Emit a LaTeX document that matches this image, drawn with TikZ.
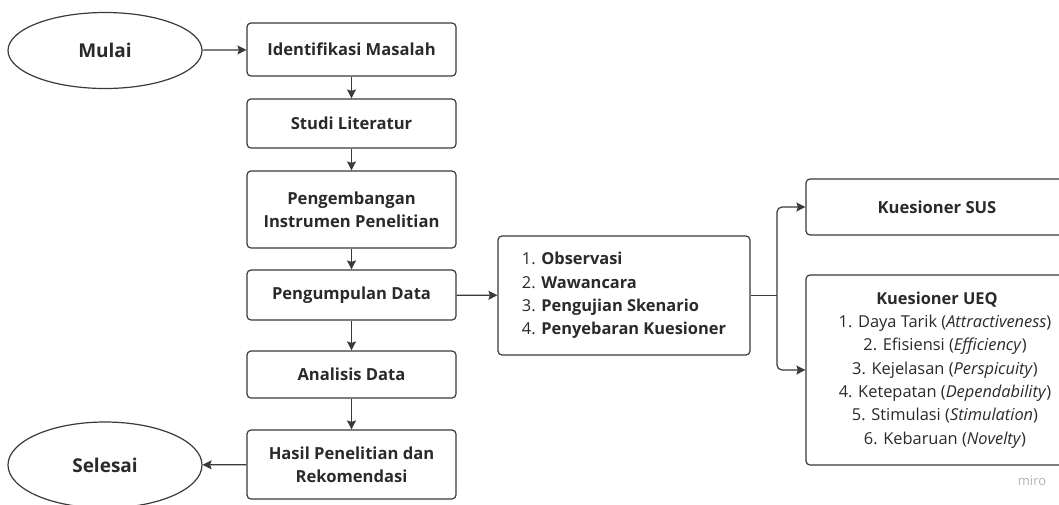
\documentclass[tikz,border=0pt]{standalone}
\usepackage{fontspec}
\setmainfont{Open Sans}
\usetikzlibrary{arrows.meta,shapes.geometric}
\definecolor{ln}{HTML}{3A3A3A}
\definecolor{tx}{HTML}{2A2A2A}
\definecolor{wm}{HTML}{B4B4B4}
\begin{document}
\begin{tikzpicture}[x=1pt,y=-1pt,
  every node/.style={text=tx},
  box/.style={draw=ln,line width=1.2pt,rounded corners=4pt,align=center,inner sep=0pt,
    font=\fontsize{16.6}{23.3}\selectfont\bfseries},
  oval/.style={draw=ln,line width=1.2pt,ellipse,inner sep=0pt,
    font=\fontsize{19}{23}\selectfont\bfseries},
  arr/.style={draw=ln,line width=1.2pt,-{Stealth[length=9pt,width=9pt,inset=1.5pt]}},
  con/.style={draw=ln,line width=1.2pt}]
\useasboundingbox (0,0) rectangle (1059,504);
\clip (0,0) rectangle (1059,504);
\fill[white] (0,0) rectangle (1059,504);

\node[oval,minimum width=194pt,minimum height=76pt] (mulai) at (105,50.5) {Mulai};
\node[oval,minimum width=194pt,minimum height=86pt] (selesai) at (105,465) {Selesai};

\node[box,minimum width=209pt,minimum height=53pt] (idm) at (351.5,49.5) {Identifikasi Masalah};
\node[box,minimum width=209pt,minimum height=49pt] (studi) at (351.5,123.5) {Studi Literatur};
\node[box,minimum width=209pt,minimum height=77pt] (peng) at (351.5,209.5) {Pengembangan\\Instrumen Penelitian};
\node[box,minimum width=209pt,minimum height=50pt] (pengum) at (351.5,295) {Pengumpulan Data};
\node[box,minimum width=209pt,minimum height=47pt] (anal) at (351.5,374.5) {Analisis Data};
\node[box,minimum width=209pt,minimum height=69pt] (hasil) at (351.5,464.5) {Hasil Penelitian dan\\Rekomendasi};

\node[box,minimum width=252pt,minimum height=119pt,align=left,font=\fontsize{16.4}{23.3}\selectfont] (list) at (624,295.5)
  {1. \textbf{Observasi}\\2. \textbf{Wawancara}\\3. \textbf{Pengujian Skenario}\\4. \textbf{Penyebaran Kuesioner}};

\node[box,minimum width=262pt,minimum height=56pt] (sus) at (937,207) {Kuesioner SUS};
\node[box,minimum width=262pt,minimum height=190pt,font=\fontsize{16.4}{23.3}\selectfont] (ueq) at (937,370)
  {\textbf{Kuesioner UEQ}\\
   \hspace*{16pt}1. Daya Tarik (\textit{Attractiveness})\\
   \hspace*{16pt}2. Efisiensi (\textit{Efficiency})\\
   \hspace*{16pt}3. Kejelasan (\textit{Perspicuity})\\
   \hspace*{16pt}4. Ketepatan (\textit{Dependability})\\
   \hspace*{16pt}5. Stimulasi (\textit{Stimulation})\\
   \hspace*{16pt}6. Kebaruan (\textit{Novelty})};

\node[text=wm,font=\fontsize{13}{15}\selectfont,anchor=center] (miro) at (1032,481) {miro};

\draw[arr] (mulai) -- (idm);
\draw[arr] (idm) -- (studi);
\draw[arr] (studi) -- (peng);
\draw[arr] (peng) -- (pengum);
\draw[arr] (pengum) -- (anal);
\draw[arr] (anal) -- (hasil);
\draw[arr] (hasil) -- (selesai);
\draw[arr] (pengum) -- (list);

\coordinate (j) at (777,295.5);
\draw[con] (list.east) -- (j);
\draw[arr,rounded corners=5pt] (j) |- (sus.west);
\draw[arr,rounded corners=5pt] (j) |- (ueq.west);
\end{tikzpicture}
\end{document}
